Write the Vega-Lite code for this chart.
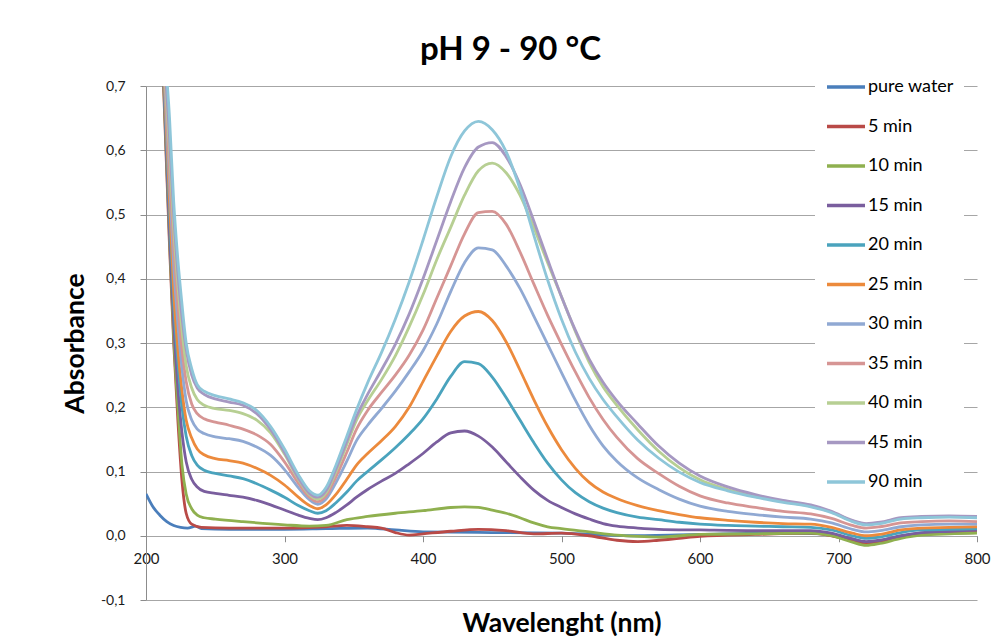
{
"$schema":"https://vega.github.io/schema/vega-lite/v6.json",
"width":831,"height":514,
"autosize":{"type":"none"},
"padding":{"left":146,"top":86,"right":26,"bottom":42},
"background":"white",
"config":{"locale":{"number":{"decimal":",","thousands":".","grouping":[3],"currency":["","€"],"minus":"-"}},"view":{"stroke":null},"font":"Lato"},
"title":{"text":"pH 9 - 90 °C","fontSize":33,"fontWeight":"bold","font":"Lato","color":"#000","anchor":"middle","frame":"group","dx":-51,"offset":0},
"data":{"values":[
{"s":"pure water","w":200,"a":0.065},{"s":"pure water","w":205,"a":0.045},{"s":"pure water","w":210,"a":0.032},{"s":"pure water","w":215,"a":0.022},{"s":"pure water","w":220,"a":0.016},{"s":"pure water","w":225,"a":0.013},{"s":"pure water","w":230,"a":0.012},{"s":"pure water","w":236,"a":0.015},{"s":"pure water","w":240,"a":0.011},{"s":"pure water","w":260,"a":0.01},{"s":"pure water","w":300,"a":0.01},{"s":"pure water","w":330,"a":0.011},{"s":"pure water","w":360,"a":0.012},{"s":"pure water","w":380,"a":0.009},{"s":"pure water","w":400,"a":0.006},{"s":"pure water","w":450,"a":0.005},{"s":"pure water","w":500,"a":0.004},{"s":"pure water","w":550,"a":0.0},{"s":"pure water","w":600,"a":0.002},{"s":"pure water","w":650,"a":0.004},{"s":"pure water","w":690,"a":0.003},{"s":"pure water","w":710,"a":-0.005},{"s":"pure water","w":720,"a":-0.01},{"s":"pure water","w":740,"a":-0.003},{"s":"pure water","w":760,"a":0.004},{"s":"pure water","w":800,"a":0.005},
{"s":"5 min","w":200,"a":1.4},{"s":"5 min","w":208,"a":0.95},{"s":"5 min","w":213,"a":0.68},{"s":"5 min","w":217,"a":0.45},{"s":"5 min","w":220,"a":0.3},{"s":"5 min","w":223,"a":0.18},{"s":"5 min","w":226,"a":0.085},{"s":"5 min","w":229,"a":0.035},{"s":"5 min","w":233,"a":0.018},{"s":"5 min","w":240,"a":0.013},{"s":"5 min","w":260,"a":0.012},{"s":"5 min","w":300,"a":0.012},{"s":"5 min","w":330,"a":0.014},{"s":"5 min","w":345,"a":0.016},{"s":"5 min","w":360,"a":0.014},{"s":"5 min","w":370,"a":0.012},{"s":"5 min","w":380,"a":0.005},{"s":"5 min","w":390,"a":0.001},{"s":"5 min","w":400,"a":0.003},{"s":"5 min","w":420,"a":0.007},{"s":"5 min","w":440,"a":0.01},{"s":"5 min","w":460,"a":0.008},{"s":"5 min","w":480,"a":0.003},{"s":"5 min","w":500,"a":0.004},{"s":"5 min","w":520,"a":0.0},{"s":"5 min","w":540,"a":-0.007},{"s":"5 min","w":555,"a":-0.009},{"s":"5 min","w":570,"a":-0.007},{"s":"5 min","w":585,"a":-0.004},{"s":"5 min","w":600,"a":-0.001},{"s":"5 min","w":640,"a":0.002},{"s":"5 min","w":680,"a":0.004},{"s":"5 min","w":695,"a":0.0},{"s":"5 min","w":710,"a":-0.008},{"s":"5 min","w":720,"a":-0.012},{"s":"5 min","w":730,"a":-0.01},{"s":"5 min","w":745,"a":-0.002},{"s":"5 min","w":760,"a":0.003},{"s":"5 min","w":800,"a":0.005},
{"s":"10 min","w":200,"a":1.4},{"s":"10 min","w":208,"a":0.96},{"s":"10 min","w":213,"a":0.69},{"s":"10 min","w":217,"a":0.46},{"s":"10 min","w":220,"a":0.31},{"s":"10 min","w":223,"a":0.2},{"s":"10 min","w":226,"a":0.11},{"s":"10 min","w":229,"a":0.065},{"s":"10 min","w":233,"a":0.042},{"s":"10 min","w":237,"a":0.032},{"s":"10 min","w":242,"a":0.028},{"s":"10 min","w":250,"a":0.026},{"s":"10 min","w":270,"a":0.022},{"s":"10 min","w":300,"a":0.017},{"s":"10 min","w":318,"a":0.015},{"s":"10 min","w":330,"a":0.016},{"s":"10 min","w":345,"a":0.025},{"s":"10 min","w":360,"a":0.03},{"s":"10 min","w":380,"a":0.035},{"s":"10 min","w":400,"a":0.039},{"s":"10 min","w":420,"a":0.044},{"s":"10 min","w":430,"a":0.045},{"s":"10 min","w":440,"a":0.044},{"s":"10 min","w":450,"a":0.04},{"s":"10 min","w":460,"a":0.035},{"s":"10 min","w":470,"a":0.028},{"s":"10 min","w":480,"a":0.02},{"s":"10 min","w":490,"a":0.014},{"s":"10 min","w":500,"a":0.011},{"s":"10 min","w":520,"a":0.006},{"s":"10 min","w":540,"a":0.001},{"s":"10 min","w":555,"a":-0.001},{"s":"10 min","w":570,"a":-0.002},{"s":"10 min","w":600,"a":0.002},{"s":"10 min","w":640,"a":0.003},{"s":"10 min","w":680,"a":0.004},{"s":"10 min","w":695,"a":0.0},{"s":"10 min","w":710,"a":-0.01},{"s":"10 min","w":720,"a":-0.015},{"s":"10 min","w":730,"a":-0.012},{"s":"10 min","w":745,"a":-0.004},{"s":"10 min","w":760,"a":0.001},{"s":"10 min","w":780,"a":0.003},{"s":"10 min","w":800,"a":0.004},
{"s":"15 min","w":200,"a":1.4},{"s":"15 min","w":208,"a":0.97},{"s":"15 min","w":213,"a":0.7},{"s":"15 min","w":217,"a":0.47},{"s":"15 min","w":220,"a":0.33},{"s":"15 min","w":223,"a":0.23},{"s":"15 min","w":226,"a":0.16},{"s":"15 min","w":229,"a":0.115},{"s":"15 min","w":233,"a":0.088},{"s":"15 min","w":237,"a":0.076},{"s":"15 min","w":242,"a":0.069},{"s":"15 min","w":250,"a":0.066},{"s":"15 min","w":260,"a":0.063},{"s":"15 min","w":270,"a":0.06},{"s":"15 min","w":280,"a":0.055},{"s":"15 min","w":290,"a":0.048},{"s":"15 min","w":300,"a":0.04},{"s":"15 min","w":310,"a":0.032},{"s":"15 min","w":318,"a":0.027},{"s":"15 min","w":324,"a":0.025},{"s":"15 min","w":330,"a":0.028},{"s":"15 min","w":337,"a":0.036},{"s":"15 min","w":345,"a":0.048},{"s":"15 min","w":352,"a":0.06},{"s":"15 min","w":360,"a":0.072},{"s":"15 min","w":370,"a":0.085},{"s":"15 min","w":380,"a":0.097},{"s":"15 min","w":390,"a":0.112},{"s":"15 min","w":400,"a":0.128},{"s":"15 min","w":410,"a":0.146},{"s":"15 min","w":420,"a":0.16},{"s":"15 min","w":430,"a":0.163},{"s":"15 min","w":440,"a":0.155},{"s":"15 min","w":450,"a":0.138},{"s":"15 min","w":460,"a":0.115},{"s":"15 min","w":470,"a":0.092},{"s":"15 min","w":480,"a":0.071},{"s":"15 min","w":490,"a":0.055},{"s":"15 min","w":500,"a":0.044},{"s":"15 min","w":510,"a":0.034},{"s":"15 min","w":520,"a":0.026},{"s":"15 min","w":530,"a":0.019},{"s":"15 min","w":540,"a":0.015},{"s":"15 min","w":555,"a":0.012},{"s":"15 min","w":570,"a":0.01},{"s":"15 min","w":600,"a":0.009},{"s":"15 min","w":640,"a":0.008},{"s":"15 min","w":680,"a":0.008},{"s":"15 min","w":695,"a":0.004},{"s":"15 min","w":710,"a":-0.005},{"s":"15 min","w":720,"a":-0.009},{"s":"15 min","w":730,"a":-0.007},{"s":"15 min","w":745,"a":0.0},{"s":"15 min","w":760,"a":0.005},{"s":"15 min","w":780,"a":0.007},{"s":"15 min","w":800,"a":0.009},
{"s":"20 min","w":200,"a":1.4},{"s":"20 min","w":208,"a":0.98},{"s":"20 min","w":213,"a":0.71},{"s":"20 min","w":217,"a":0.5},{"s":"20 min","w":220,"a":0.36},{"s":"20 min","w":223,"a":0.27},{"s":"20 min","w":226,"a":0.2},{"s":"20 min","w":229,"a":0.155},{"s":"20 min","w":233,"a":0.125},{"s":"20 min","w":237,"a":0.11},{"s":"20 min","w":242,"a":0.102},{"s":"20 min","w":250,"a":0.097},{"s":"20 min","w":260,"a":0.093},{"s":"20 min","w":270,"a":0.089},{"s":"20 min","w":280,"a":0.081},{"s":"20 min","w":290,"a":0.071},{"s":"20 min","w":300,"a":0.06},{"s":"20 min","w":310,"a":0.047},{"s":"20 min","w":318,"a":0.039},{"s":"20 min","w":324,"a":0.035},{"s":"20 min","w":330,"a":0.039},{"s":"20 min","w":337,"a":0.051},{"s":"20 min","w":345,"a":0.068},{"s":"20 min","w":352,"a":0.085},{"s":"20 min","w":360,"a":0.1},{"s":"20 min","w":370,"a":0.118},{"s":"20 min","w":380,"a":0.137},{"s":"20 min","w":390,"a":0.158},{"s":"20 min","w":400,"a":0.182},{"s":"20 min","w":410,"a":0.213},{"s":"20 min","w":420,"a":0.248},{"s":"20 min","w":430,"a":0.271},{"s":"20 min","w":440,"a":0.268},{"s":"20 min","w":450,"a":0.247},{"s":"20 min","w":460,"a":0.215},{"s":"20 min","w":470,"a":0.18},{"s":"20 min","w":480,"a":0.145},{"s":"20 min","w":490,"a":0.113},{"s":"20 min","w":500,"a":0.087},{"s":"20 min","w":510,"a":0.067},{"s":"20 min","w":520,"a":0.053},{"s":"20 min","w":530,"a":0.043},{"s":"20 min","w":540,"a":0.036},{"s":"20 min","w":555,"a":0.029},{"s":"20 min","w":570,"a":0.025},{"s":"20 min","w":585,"a":0.021},{"s":"20 min","w":600,"a":0.018},{"s":"20 min","w":620,"a":0.016},{"s":"20 min","w":640,"a":0.015},{"s":"20 min","w":660,"a":0.014},{"s":"20 min","w":680,"a":0.013},{"s":"20 min","w":695,"a":0.009},{"s":"20 min","w":710,"a":0.0},{"s":"20 min","w":720,"a":-0.004},{"s":"20 min","w":730,"a":-0.002},{"s":"20 min","w":745,"a":0.005},{"s":"20 min","w":760,"a":0.009},{"s":"20 min","w":780,"a":0.01},{"s":"20 min","w":800,"a":0.011},
{"s":"25 min","w":200,"a":1.4},{"s":"25 min","w":208,"a":0.99},{"s":"25 min","w":213,"a":0.72},{"s":"25 min","w":217,"a":0.52},{"s":"25 min","w":220,"a":0.38},{"s":"25 min","w":223,"a":0.29},{"s":"25 min","w":226,"a":0.225},{"s":"25 min","w":229,"a":0.18},{"s":"25 min","w":233,"a":0.152},{"s":"25 min","w":237,"a":0.135},{"s":"25 min","w":242,"a":0.126},{"s":"25 min","w":250,"a":0.12},{"s":"25 min","w":260,"a":0.117},{"s":"25 min","w":270,"a":0.113},{"s":"25 min","w":280,"a":0.105},{"s":"25 min","w":290,"a":0.094},{"s":"25 min","w":300,"a":0.079},{"s":"25 min","w":310,"a":0.06},{"s":"25 min","w":318,"a":0.047},{"s":"25 min","w":324,"a":0.042},{"s":"25 min","w":330,"a":0.048},{"s":"25 min","w":337,"a":0.064},{"s":"25 min","w":345,"a":0.088},{"s":"25 min","w":352,"a":0.11},{"s":"25 min","w":360,"a":0.128},{"s":"25 min","w":370,"a":0.148},{"s":"25 min","w":380,"a":0.17},{"s":"25 min","w":390,"a":0.2},{"s":"25 min","w":400,"a":0.24},{"s":"25 min","w":410,"a":0.28},{"s":"25 min","w":420,"a":0.318},{"s":"25 min","w":430,"a":0.342},{"s":"25 min","w":440,"a":0.349},{"s":"25 min","w":450,"a":0.335},{"s":"25 min","w":460,"a":0.302},{"s":"25 min","w":470,"a":0.258},{"s":"25 min","w":480,"a":0.212},{"s":"25 min","w":490,"a":0.17},{"s":"25 min","w":500,"a":0.134},{"s":"25 min","w":510,"a":0.105},{"s":"25 min","w":520,"a":0.083},{"s":"25 min","w":530,"a":0.068},{"s":"25 min","w":540,"a":0.058},{"s":"25 min","w":555,"a":0.047},{"s":"25 min","w":570,"a":0.039},{"s":"25 min","w":585,"a":0.033},{"s":"25 min","w":600,"a":0.028},{"s":"25 min","w":620,"a":0.024},{"s":"25 min","w":640,"a":0.021},{"s":"25 min","w":660,"a":0.019},{"s":"25 min","w":680,"a":0.018},{"s":"25 min","w":695,"a":0.013},{"s":"25 min","w":710,"a":0.004},{"s":"25 min","w":720,"a":0.0},{"s":"25 min","w":730,"a":0.002},{"s":"25 min","w":745,"a":0.009},{"s":"25 min","w":760,"a":0.012},{"s":"25 min","w":780,"a":0.013},{"s":"25 min","w":800,"a":0.014},
{"s":"30 min","w":200,"a":1.4},{"s":"30 min","w":208,"a":1.0},{"s":"30 min","w":213,"a":0.73},{"s":"30 min","w":217,"a":0.55},{"s":"30 min","w":220,"a":0.42},{"s":"30 min","w":223,"a":0.33},{"s":"30 min","w":226,"a":0.26},{"s":"30 min","w":229,"a":0.21},{"s":"30 min","w":233,"a":0.18},{"s":"30 min","w":237,"a":0.166},{"s":"30 min","w":242,"a":0.159},{"s":"30 min","w":250,"a":0.154},{"s":"30 min","w":260,"a":0.151},{"s":"30 min","w":270,"a":0.147},{"s":"30 min","w":280,"a":0.138},{"s":"30 min","w":290,"a":0.125},{"s":"30 min","w":300,"a":0.103},{"s":"30 min","w":310,"a":0.075},{"s":"30 min","w":318,"a":0.056},{"s":"30 min","w":324,"a":0.049},{"s":"30 min","w":330,"a":0.057},{"s":"30 min","w":337,"a":0.082},{"s":"30 min","w":345,"a":0.116},{"s":"30 min","w":352,"a":0.148},{"s":"30 min","w":360,"a":0.172},{"s":"30 min","w":370,"a":0.198},{"s":"30 min","w":380,"a":0.225},{"s":"30 min","w":390,"a":0.255},{"s":"30 min","w":400,"a":0.288},{"s":"30 min","w":410,"a":0.33},{"s":"30 min","w":420,"a":0.38},{"s":"30 min","w":430,"a":0.425},{"s":"30 min","w":440,"a":0.448},{"s":"30 min","w":450,"a":0.445},{"s":"30 min","w":460,"a":0.42},{"s":"30 min","w":470,"a":0.385},{"s":"30 min","w":480,"a":0.342},{"s":"30 min","w":490,"a":0.298},{"s":"30 min","w":500,"a":0.254},{"s":"30 min","w":510,"a":0.211},{"s":"30 min","w":520,"a":0.172},{"s":"30 min","w":530,"a":0.14},{"s":"30 min","w":540,"a":0.116},{"s":"30 min","w":555,"a":0.09},{"s":"30 min","w":570,"a":0.072},{"s":"30 min","w":585,"a":0.057},{"s":"30 min","w":600,"a":0.046},{"s":"30 min","w":620,"a":0.038},{"s":"30 min","w":640,"a":0.033},{"s":"30 min","w":660,"a":0.029},{"s":"30 min","w":680,"a":0.026},{"s":"30 min","w":695,"a":0.02},{"s":"30 min","w":710,"a":0.01},{"s":"30 min","w":720,"a":0.006},{"s":"30 min","w":730,"a":0.008},{"s":"30 min","w":745,"a":0.014},{"s":"30 min","w":760,"a":0.017},{"s":"30 min","w":780,"a":0.018},{"s":"30 min","w":800,"a":0.018},
{"s":"35 min","w":200,"a":1.4},{"s":"35 min","w":208,"a":1.0},{"s":"35 min","w":213,"a":0.74},{"s":"35 min","w":217,"a":0.57},{"s":"35 min","w":220,"a":0.45},{"s":"35 min","w":223,"a":0.36},{"s":"35 min","w":226,"a":0.29},{"s":"35 min","w":229,"a":0.24},{"s":"35 min","w":233,"a":0.205},{"s":"35 min","w":237,"a":0.19},{"s":"35 min","w":242,"a":0.182},{"s":"35 min","w":250,"a":0.177},{"s":"35 min","w":260,"a":0.172},{"s":"35 min","w":270,"a":0.166},{"s":"35 min","w":280,"a":0.157},{"s":"35 min","w":290,"a":0.142},{"s":"35 min","w":300,"a":0.115},{"s":"35 min","w":310,"a":0.082},{"s":"35 min","w":318,"a":0.06},{"s":"35 min","w":324,"a":0.053},{"s":"35 min","w":330,"a":0.062},{"s":"35 min","w":337,"a":0.091},{"s":"35 min","w":345,"a":0.13},{"s":"35 min","w":352,"a":0.166},{"s":"35 min","w":360,"a":0.195},{"s":"35 min","w":370,"a":0.223},{"s":"35 min","w":380,"a":0.25},{"s":"35 min","w":390,"a":0.281},{"s":"35 min","w":400,"a":0.32},{"s":"35 min","w":410,"a":0.37},{"s":"35 min","w":420,"a":0.42},{"s":"35 min","w":430,"a":0.47},{"s":"35 min","w":440,"a":0.503},{"s":"35 min","w":450,"a":0.505},{"s":"35 min","w":460,"a":0.485},{"s":"35 min","w":470,"a":0.442},{"s":"35 min","w":480,"a":0.392},{"s":"35 min","w":490,"a":0.343},{"s":"35 min","w":500,"a":0.298},{"s":"35 min","w":510,"a":0.255},{"s":"35 min","w":520,"a":0.215},{"s":"35 min","w":530,"a":0.181},{"s":"35 min","w":540,"a":0.153},{"s":"35 min","w":555,"a":0.12},{"s":"35 min","w":570,"a":0.097},{"s":"35 min","w":585,"a":0.077},{"s":"35 min","w":600,"a":0.062},{"s":"35 min","w":620,"a":0.051},{"s":"35 min","w":640,"a":0.044},{"s":"35 min","w":660,"a":0.038},{"s":"35 min","w":680,"a":0.034},{"s":"35 min","w":695,"a":0.027},{"s":"35 min","w":710,"a":0.016},{"s":"35 min","w":720,"a":0.012},{"s":"35 min","w":730,"a":0.014},{"s":"35 min","w":745,"a":0.02},{"s":"35 min","w":760,"a":0.022},{"s":"35 min","w":780,"a":0.023},{"s":"35 min","w":800,"a":0.022},
{"s":"40 min","w":200,"a":1.4},{"s":"40 min","w":208,"a":1.02},{"s":"40 min","w":213,"a":0.75},{"s":"40 min","w":217,"a":0.6},{"s":"40 min","w":220,"a":0.48},{"s":"40 min","w":223,"a":0.39},{"s":"40 min","w":226,"a":0.32},{"s":"40 min","w":229,"a":0.265},{"s":"40 min","w":233,"a":0.23},{"s":"40 min","w":237,"a":0.212},{"s":"40 min","w":242,"a":0.203},{"s":"40 min","w":250,"a":0.198},{"s":"40 min","w":260,"a":0.195},{"s":"40 min","w":270,"a":0.19},{"s":"40 min","w":280,"a":0.18},{"s":"40 min","w":290,"a":0.16},{"s":"40 min","w":300,"a":0.127},{"s":"40 min","w":310,"a":0.088},{"s":"40 min","w":318,"a":0.064},{"s":"40 min","w":324,"a":0.057},{"s":"40 min","w":330,"a":0.067},{"s":"40 min","w":337,"a":0.099},{"s":"40 min","w":345,"a":0.142},{"s":"40 min","w":352,"a":0.18},{"s":"40 min","w":360,"a":0.21},{"s":"40 min","w":370,"a":0.243},{"s":"40 min","w":380,"a":0.28},{"s":"40 min","w":390,"a":0.325},{"s":"40 min","w":400,"a":0.375},{"s":"40 min","w":410,"a":0.43},{"s":"40 min","w":420,"a":0.48},{"s":"40 min","w":430,"a":0.53},{"s":"40 min","w":440,"a":0.568},{"s":"40 min","w":450,"a":0.58},{"s":"40 min","w":460,"a":0.565},{"s":"40 min","w":470,"a":0.53},{"s":"40 min","w":480,"a":0.48},{"s":"40 min","w":490,"a":0.425},{"s":"40 min","w":500,"a":0.372},{"s":"40 min","w":510,"a":0.318},{"s":"40 min","w":520,"a":0.27},{"s":"40 min","w":530,"a":0.232},{"s":"40 min","w":540,"a":0.203},{"s":"40 min","w":555,"a":0.165},{"s":"40 min","w":570,"a":0.132},{"s":"40 min","w":585,"a":0.106},{"s":"40 min","w":600,"a":0.087},{"s":"40 min","w":620,"a":0.072},{"s":"40 min","w":640,"a":0.061},{"s":"40 min","w":660,"a":0.053},{"s":"40 min","w":680,"a":0.046},{"s":"40 min","w":695,"a":0.037},{"s":"40 min","w":710,"a":0.023},{"s":"40 min","w":720,"a":0.018},{"s":"40 min","w":730,"a":0.02},{"s":"40 min","w":745,"a":0.027},{"s":"40 min","w":760,"a":0.029},{"s":"40 min","w":780,"a":0.03},{"s":"40 min","w":800,"a":0.029},
{"s":"45 min","w":200,"a":1.4},{"s":"45 min","w":208,"a":1.03},{"s":"45 min","w":213,"a":0.76},{"s":"45 min","w":217,"a":0.62},{"s":"45 min","w":220,"a":0.5},{"s":"45 min","w":223,"a":0.41},{"s":"45 min","w":226,"a":0.34},{"s":"45 min","w":229,"a":0.29},{"s":"45 min","w":233,"a":0.25},{"s":"45 min","w":237,"a":0.23},{"s":"45 min","w":242,"a":0.22},{"s":"45 min","w":250,"a":0.213},{"s":"45 min","w":260,"a":0.208},{"s":"45 min","w":270,"a":0.203},{"s":"45 min","w":280,"a":0.19},{"s":"45 min","w":290,"a":0.165},{"s":"45 min","w":300,"a":0.13},{"s":"45 min","w":310,"a":0.09},{"s":"45 min","w":318,"a":0.066},{"s":"45 min","w":324,"a":0.06},{"s":"45 min","w":330,"a":0.07},{"s":"45 min","w":337,"a":0.103},{"s":"45 min","w":345,"a":0.147},{"s":"45 min","w":352,"a":0.186},{"s":"45 min","w":360,"a":0.22},{"s":"45 min","w":370,"a":0.258},{"s":"45 min","w":380,"a":0.298},{"s":"45 min","w":390,"a":0.345},{"s":"45 min","w":400,"a":0.4},{"s":"45 min","w":410,"a":0.46},{"s":"45 min","w":420,"a":0.52},{"s":"45 min","w":430,"a":0.573},{"s":"45 min","w":440,"a":0.605},{"s":"45 min","w":450,"a":0.612},{"s":"45 min","w":460,"a":0.59},{"s":"45 min","w":470,"a":0.547},{"s":"45 min","w":480,"a":0.49},{"s":"45 min","w":490,"a":0.43},{"s":"45 min","w":500,"a":0.372},{"s":"45 min","w":510,"a":0.32},{"s":"45 min","w":520,"a":0.275},{"s":"45 min","w":530,"a":0.239},{"s":"45 min","w":540,"a":0.21},{"s":"45 min","w":555,"a":0.174},{"s":"45 min","w":570,"a":0.14},{"s":"45 min","w":585,"a":0.113},{"s":"45 min","w":600,"a":0.093},{"s":"45 min","w":620,"a":0.076},{"s":"45 min","w":640,"a":0.064},{"s":"45 min","w":660,"a":0.055},{"s":"45 min","w":680,"a":0.048},{"s":"45 min","w":695,"a":0.038},{"s":"45 min","w":710,"a":0.024},{"s":"45 min","w":720,"a":0.019},{"s":"45 min","w":730,"a":0.021},{"s":"45 min","w":745,"a":0.028},{"s":"45 min","w":760,"a":0.03},{"s":"45 min","w":780,"a":0.031},{"s":"45 min","w":800,"a":0.03},
{"s":"90 min","w":200,"a":1.4},{"s":"90 min","w":208,"a":1.05},{"s":"90 min","w":213,"a":0.78},{"s":"90 min","w":217,"a":0.65},{"s":"90 min","w":220,"a":0.52},{"s":"90 min","w":223,"a":0.43},{"s":"90 min","w":226,"a":0.36},{"s":"90 min","w":229,"a":0.3},{"s":"90 min","w":233,"a":0.26},{"s":"90 min","w":237,"a":0.235},{"s":"90 min","w":242,"a":0.225},{"s":"90 min","w":250,"a":0.218},{"s":"90 min","w":260,"a":0.213},{"s":"90 min","w":270,"a":0.207},{"s":"90 min","w":280,"a":0.195},{"s":"90 min","w":290,"a":0.17},{"s":"90 min","w":300,"a":0.135},{"s":"90 min","w":310,"a":0.095},{"s":"90 min","w":318,"a":0.07},{"s":"90 min","w":324,"a":0.063},{"s":"90 min","w":330,"a":0.075},{"s":"90 min","w":337,"a":0.109},{"s":"90 min","w":345,"a":0.155},{"s":"90 min","w":352,"a":0.196},{"s":"90 min","w":360,"a":0.238},{"s":"90 min","w":370,"a":0.285},{"s":"90 min","w":380,"a":0.337},{"s":"90 min","w":390,"a":0.395},{"s":"90 min","w":400,"a":0.46},{"s":"90 min","w":410,"a":0.528},{"s":"90 min","w":420,"a":0.59},{"s":"90 min","w":430,"a":0.63},{"s":"90 min","w":440,"a":0.645},{"s":"90 min","w":450,"a":0.632},{"s":"90 min","w":460,"a":0.598},{"s":"90 min","w":470,"a":0.54},{"s":"90 min","w":480,"a":0.468},{"s":"90 min","w":490,"a":0.398},{"s":"90 min","w":500,"a":0.337},{"s":"90 min","w":510,"a":0.286},{"s":"90 min","w":520,"a":0.245},{"s":"90 min","w":530,"a":0.212},{"s":"90 min","w":540,"a":0.185},{"s":"90 min","w":555,"a":0.149},{"s":"90 min","w":570,"a":0.121},{"s":"90 min","w":585,"a":0.099},{"s":"90 min","w":600,"a":0.083},{"s":"90 min","w":620,"a":0.07},{"s":"90 min","w":640,"a":0.06},{"s":"90 min","w":660,"a":0.052},{"s":"90 min","w":680,"a":0.045},{"s":"90 min","w":695,"a":0.036},{"s":"90 min","w":710,"a":0.022},{"s":"90 min","w":720,"a":0.017},{"s":"90 min","w":730,"a":0.019},{"s":"90 min","w":745,"a":0.026},{"s":"90 min","w":760,"a":0.028},{"s":"90 min","w":780,"a":0.029},{"s":"90 min","w":800,"a":0.028}
]},
"mark":{"type":"line","strokeWidth":2.8,"clip":true,"interpolate":"monotone"},
"encoding":{
"x":{"field":"w","type":"quantitative","scale":{"domain":[200,800],"nice":false,"zero":false},
"axis":{"values":[200,300,400,500,600,700,800],"title":"Wavelenght (nm)","titleFontSize":26.5,"titleFontWeight":"bold","titleColor":"#000","titlePadding":44,"labelFontSize":15,"labelColor":"#1a1a1a","labelPadding":10,"labelFlush":false,"offset":-64.25,"domain":false,"grid":false,"tickColor":"#8c8c8c","tickSize":6}},
"y":{"field":"a","type":"quantitative","scale":{"domain":[-0.1,0.7],"nice":false,"zero":false},
"axis":{"values":[-0.1,0,0.1,0.2,0.3,0.4,0.5,0.6,0.7],"format":".1f","title":"Absorbance","titleFontSize":26.5,"titleFontWeight":"bold","titleColor":"#000","titlePadding":11,"labelFontSize":14,"labelColor":"#1a1a1a","labelPadding":15,"domainColor":"#8c8c8c","tickColor":"#8c8c8c","tickSize":6,"gridColor":"#a6a6a6","gridWidth":1.2}},
"color":{"field":"s","type":"nominal",
"scale":{"domain":["pure water","5 min","10 min","15 min","20 min","25 min","30 min","35 min","40 min","45 min","90 min"],
"range":["#4a7ebb","#b94a47","#8fb04f","#7a5e9e","#4aa3bd","#ec8a3c","#90a9d3","#d69594","#b7cf93","#a698c2","#8ec6d9"]},
"legend":{"title":null,"orient":"none","legendX":669,"legendY":-19,"padding":10,"fillColor":"white","symbolType":"stroke","symbolSize":1444,"symbolStrokeWidth":3.5,"labelFontSize":18,"labelColor":"#000","labelOffset":1,"clipHeight":20,"rowPadding":19.5}}
}
}
